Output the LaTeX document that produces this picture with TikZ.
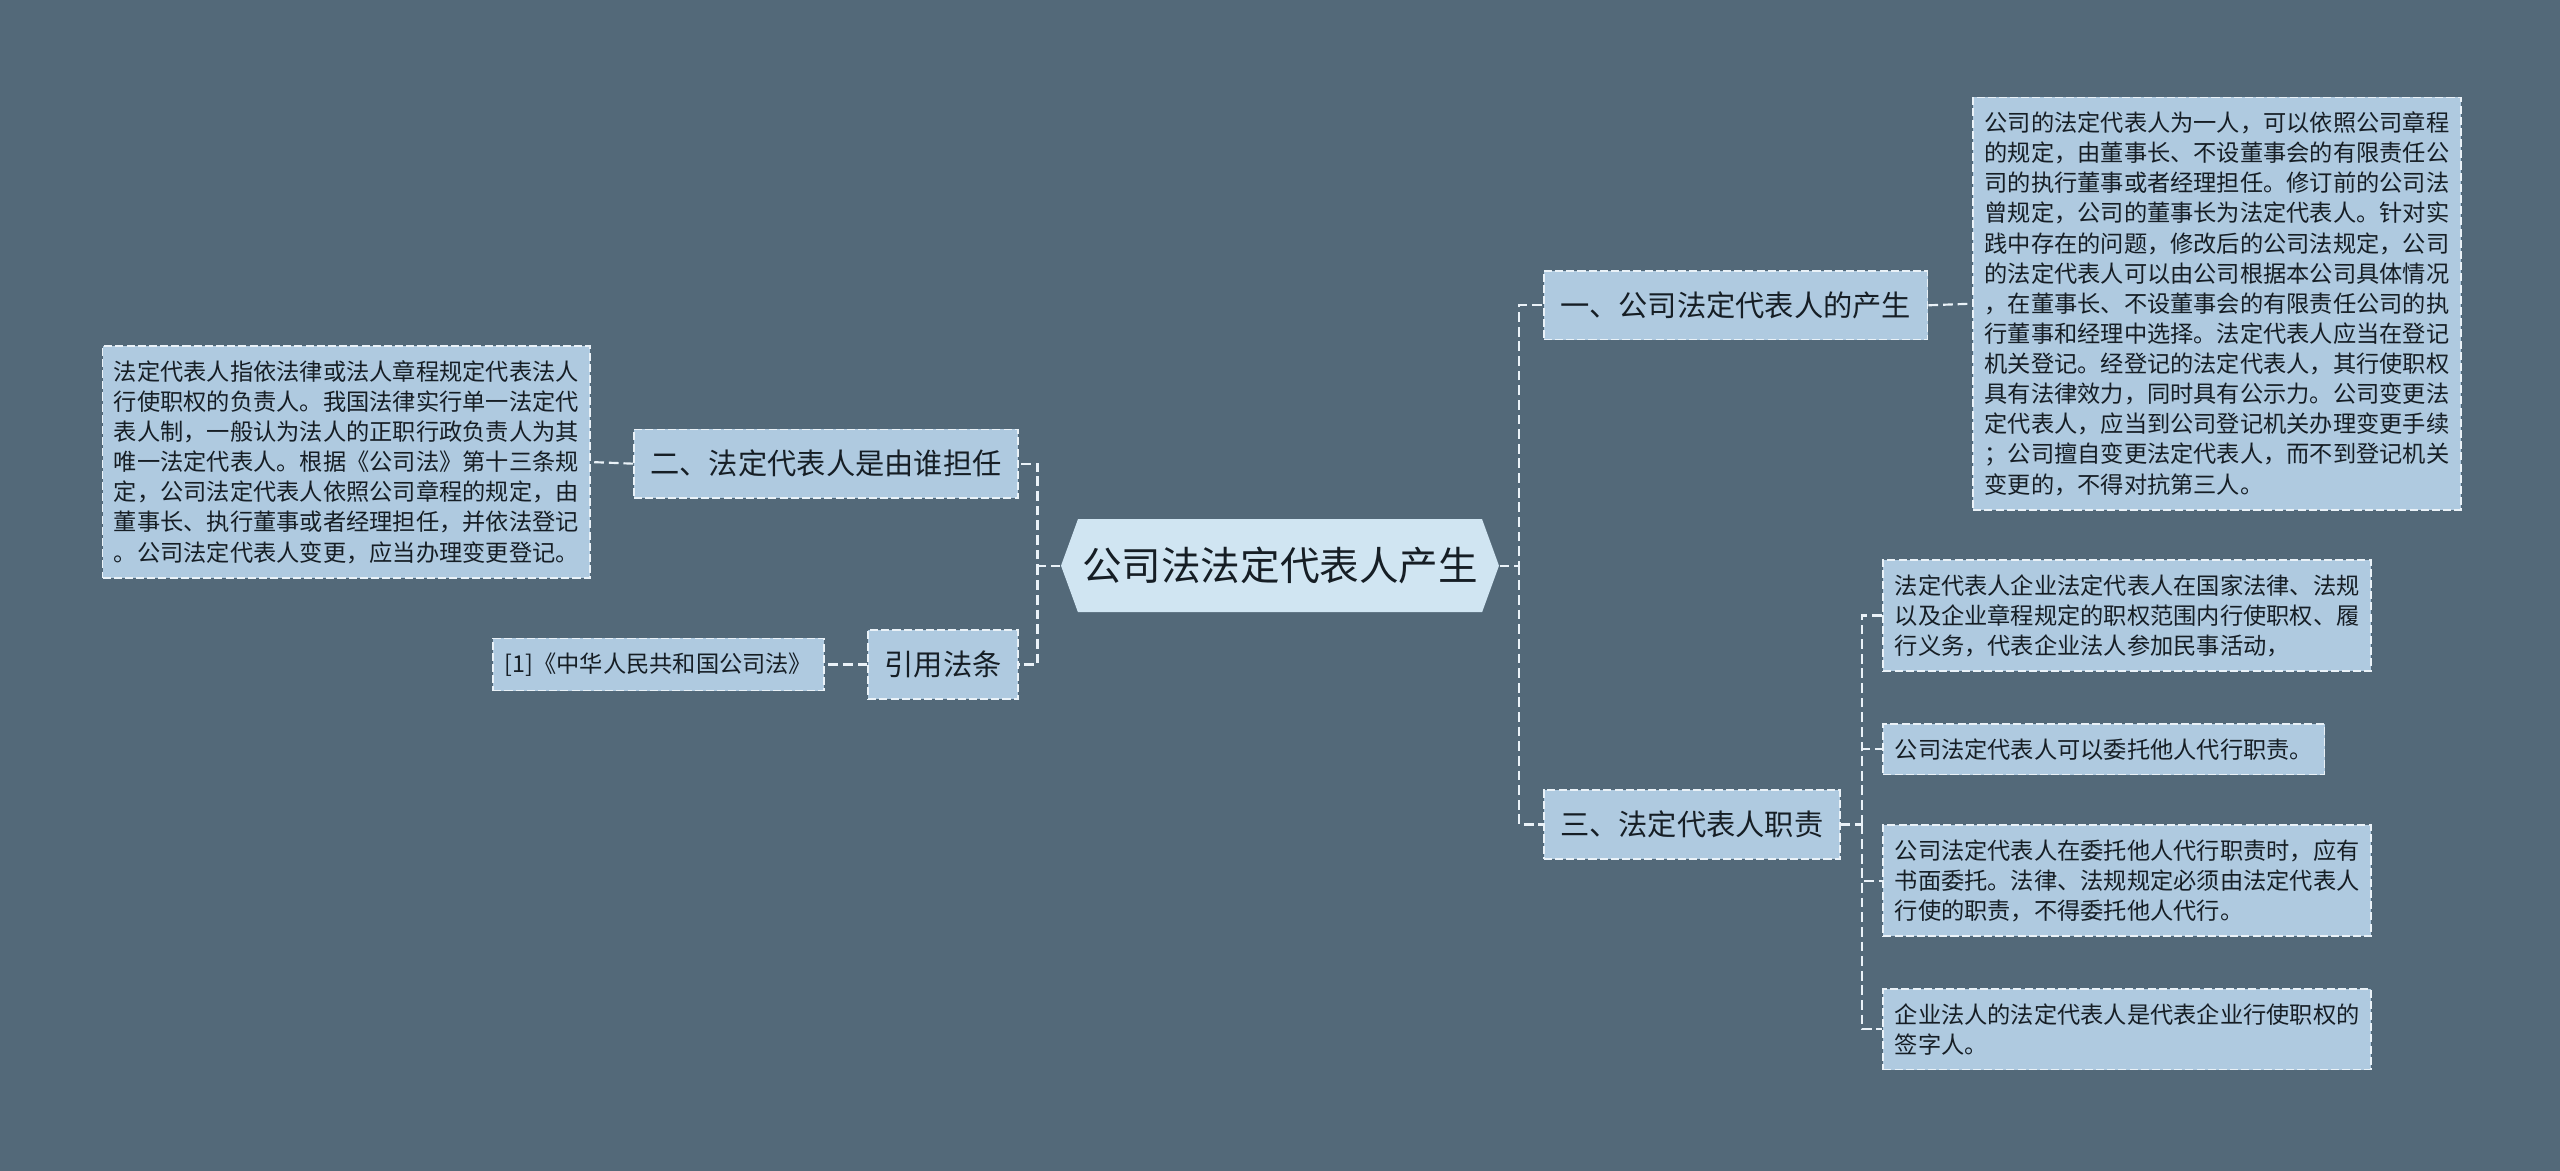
\documentclass[tikz,border=0pt]{standalone}
\usepackage{fontspec}
\setmainfont{Noto Sans CJK SC}
\usetikzlibrary{shapes.symbols}
\definecolor{bgcol}{HTML}{536979}
\definecolor{boxcol}{HTML}{AFCAE0}
\definecolor{rootcol}{HTML}{D0E5F2}
\definecolor{inkcol}{HTML}{161E25}
\definecolor{rimcol}{HTML}{EAF2F8}

\begin{document}
\begin{tikzpicture}[x=0.2mm, y=-0.2mm,
   root/.style={shape=signal, signal to=west and east, signal pointer angle=140,
      fill=rootcol, text=inkcol, font=\fontsize{13.8pt}{16pt}\selectfont,
      minimum height=11.4mm, inner xsep=0.5mm},
   branch/.style={draw=rimcol, line width=0.6pt, dash pattern=on 2.8pt off 1.1pt,
      fill=boxcol, text=inkcol, font=\fontsize{10.2pt}{12pt}\selectfont,
      minimum height=8.4mm, inner xsep=2mm},
   leaf/.style={draw=rimcol, line width=0.6pt, dash pattern=on 2.8pt off 1.1pt,
      fill=boxcol, text=inkcol, align=left, font=\fontsize{8.1pt}{10.5pt}\selectfont,
      inner xsep=1.4mm, inner ysep=1.75mm},
   link/.style={draw=rimcol, line width=0.75pt, dash pattern=on 3.4pt off 1.7pt}]

   \fill[bgcol] (0,0) rectangle (1568,717);
   \useasboundingbox (0,0) rectangle (1568,717);

   \node[root] (root) at (784,346.5) {公司法法定代表人产生};

   \node[branch, anchor=west] (one) at (945,187) {一、公司法定代表人的产生};
   \node[branch, anchor=west] (three) at (945,505) {三、法定代表人职责};
   \node[branch, anchor=east] (two) at (624,284) {二、法定代表人是由谁担任};
   \node[branch, anchor=east] (cite) at (624,407) {引用法条};

   \node[leaf, anchor=east] (law) at (505,407) {[1]《中华人民共和国公司法》};
   \node[leaf, anchor=west] (produce) at (1208,186) {公司的法定代表人为一人，可以依照公司章程\\的规定，由董事长、不设董事会的有限责任公\\司的执行董事或者经理担任。修订前的公司法\\曾规定，公司的董事长为法定代表人。针对实\\践中存在的问题，修改后的公司法规定，公司\\的法定代表人可以由公司根据本公司具体情况\\，在董事长、不设董事会的有限责任公司的执\\行董事和经理中选择。法定代表人应当在登记\\机关登记。经登记的法定代表人，其行使职权\\具有法律效力，同时具有公示力。公司变更法\\定代表人，应当到公司登记机关办理变更手续\\；公司擅自变更法定代表人，而不到登记机关\\变更的，不得对抗第三人。};
   \node[leaf, anchor=east] (who) at (362,283) {法定代表人指依法律或法人章程规定代表法人\\行使职权的负责人。我国法律实行单一法定代\\表人制，一般认为法人的正职行政负责人为其\\唯一法定代表人。根据《公司法》第十三条规\\定，公司法定代表人依照公司章程的规定，由\\董事长、执行董事或者经理担任，并依法登记\\。公司法定代表人变更，应当办理变更登记。};
   \node[leaf, anchor=west] (duty1) at (1153,377) {法定代表人企业法定代表人在国家法律、法规\\以及企业章程规定的职权范围内行使职权、履\\行义务，代表企业法人参加民事活动，};
   \node[leaf, anchor=west] (duty2) at (1153,459) {公司法定代表人可以委托他人代行职责。};
   \node[leaf, anchor=west] (duty3) at (1153,539.5) {公司法定代表人在委托他人代行职责时，应有\\书面委托。法律、法规规定必须由法定代表人\\行使的职责，不得委托他人代行。};
   \node[leaf, anchor=west] (duty4) at (1153,630.5) {企业法人的法定代表人是代表企业行使职权的\\签字人。};

   \draw[link] (root.east) -- ++(12,0) coordinate (rspine) |- (one.west);
   \draw[link] (rspine) |- (three.west);
   \draw[link] (root.west) -- ++(-14,0) coordinate (lspine) |- (two.east);
   \draw[link] (lspine) |- (cite.east);
   \draw[link] (one.east) -- (produce.west);
   \draw[link] (two.west) -- (who.east);
   \draw[link] (cite.west) -- (law.east);
   \draw[link] (three.east) -- ++(13,0) coordinate (dspine);
   \foreach \leafname in {duty1,duty2,duty3,duty4}
      \draw[link] (dspine) |- (\leafname.west);

\end{tikzpicture}
\end{document}
